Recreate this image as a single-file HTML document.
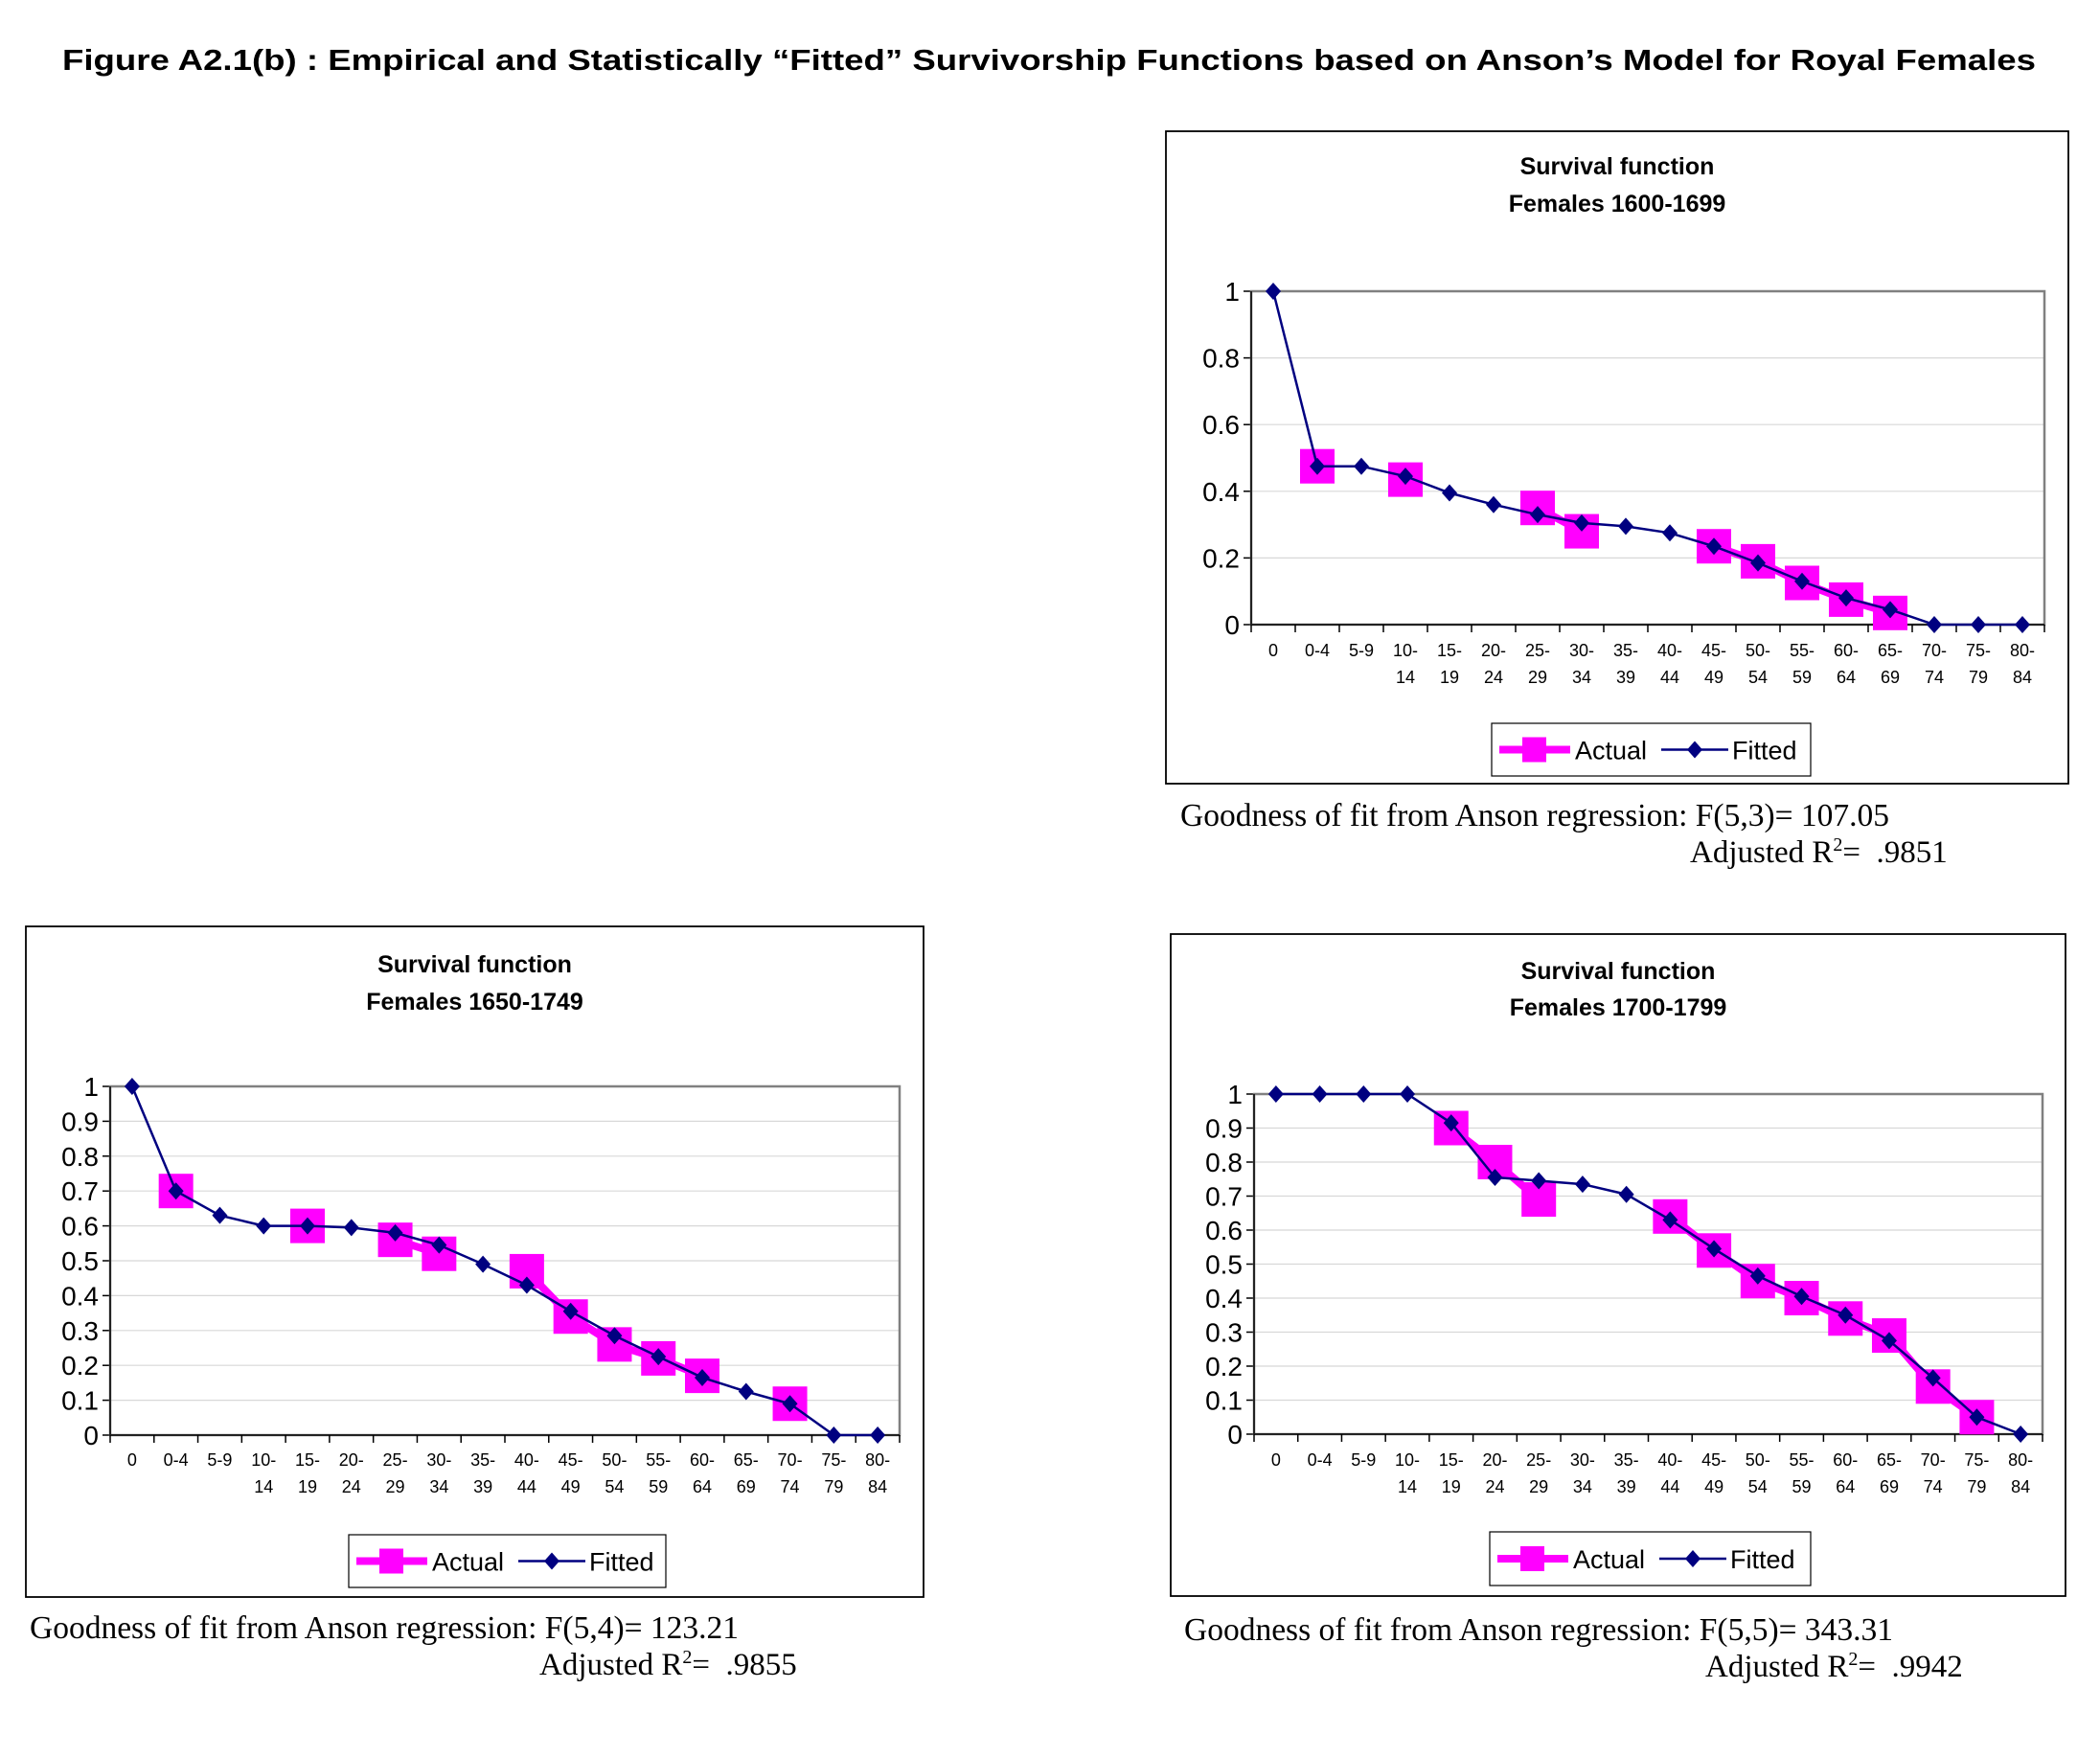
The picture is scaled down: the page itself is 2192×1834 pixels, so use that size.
<!DOCTYPE html>
<html><head><meta charset="utf-8"><style>html,body{margin:0;padding:0;background:#fff}svg{display:block}</style></head>
<body>
<svg id="fig" xmlns="http://www.w3.org/2000/svg" width="2192" height="1834" viewBox="0 0 2192 1834">
<text x="1095" y="73" text-anchor="middle" font-family="Liberation Sans, sans-serif" font-weight="bold" font-size="31" textLength="2060" lengthAdjust="spacingAndGlyphs">Figure A2.1(b) : Empirical and Statistically “Fitted” Survivorship Functions based on Anson’s Model for Royal Females</text>
</svg>
<script>
const categories = ["0","0-4","5-9","10-|14","15-|19","20-|24","25-|29","30-|34","35-|39","40-|44","45-|49","50-|54","55-|59","60-|64","65-|69","70-|74","75-|79","80-|84"];
const fitted1 = [1,0.475,0.475,0.445,0.395,0.36,0.33,0.305,0.295,0.275,0.235,0.185,0.13,0.08,0.045,0,0,0];
const actual1 = [null,0.475,null,0.435,null,null,0.35,0.28,null,null,0.235,0.19,0.125,0.075,0.035,null,null,null];
const fitted2 = [1,0.70,0.63,0.60,0.60,0.595,0.58,0.545,0.49,0.43,0.355,0.285,0.225,0.165,0.125,0.09,0,0];
const actual2 = [null,0.70,null,null,0.60,null,0.56,0.52,null,0.47,0.34,0.26,0.22,0.17,null,0.09,null,null];
const fitted3 = [1,1,1,1,0.915,0.755,0.745,0.735,0.705,0.63,0.545,0.465,0.405,0.35,0.275,0.165,0.05,0];
const actual3 = [null,null,null,null,0.90,0.80,0.69,null,null,0.64,0.54,0.45,0.40,0.34,0.29,0.14,0.05,null];
const ticks1 = ["0","0.2","0.4","0.6","0.8","1"];
const ticks01 = ["0","0.1","0.2","0.3","0.4","0.5","0.6","0.7","0.8","0.9","1"];

const NS="http://www.w3.org/2000/svg";
const svg=document.getElementById('fig');
function mk(tag,attrs,parent){const e=document.createElementNS(NS,tag);for(const k in attrs)e.setAttribute(k,attrs[k]);(parent||svg).appendChild(e);return e;}

const charts=[
 {id:'1600',period:'Females 1600-1699',box:[1217,137,2159,818],plot:[1306,304,2134,652],t1:182,t2:221,leg:[1557,755,1890,810],fit:fitted1,act:actual1,ticks:ticks1,xl:685,gof:'Goodness of fit from Anson regression: F(5,3)= 107.05',gx:1232,gy:862,adj:'.9851',ax:1764,ay:900},
 {id:'1650',period:'Females 1650-1749',box:[27,967,964,1667],plot:[115,1134,939,1498],t1:1015,t2:1054,leg:[364,1602,695,1657],fit:fitted2,act:actual2,ticks:ticks01,xl:1530,gof:'Goodness of fit from Anson regression: F(5,4)= 123.21',gx:31,gy:1710,adj:'.9855',ax:563,ay:1748},
 {id:'1700',period:'Females 1700-1799',box:[1222,975,2156,1666],plot:[1309,1142,2132,1497],t1:1022,t2:1060,leg:[1555,1599,1890,1655],fit:fitted3,act:actual3,ticks:ticks01,xl:1530,gof:'Goodness of fit from Anson regression: F(5,5)= 343.31',gx:1236,gy:1712,adj:'.9942',ax:1780,ay:1750}
];

charts.forEach(c=>{
 const g=mk('g',{});
 
 
 const [bx0,by0,bx1,by1]=c.box;
 const frame=mk('rect',{x:bx0,y:by0,width:bx1-bx0,height:by1-by0,fill:'#fff',stroke:'#000','stroke-width':1.8},g);
 
 
 const cx=(bx0+bx1)/2;
 const tt=mk('text',{x:cx,y:c.t1,'text-anchor':'middle','font-family':'Liberation Sans, sans-serif','font-weight':'bold','font-size':25},g);
 tt.textContent='Survival function';
 
 
 const ts=mk('text',{x:cx,y:c.t2,'text-anchor':'middle','font-family':'Liberation Sans, sans-serif','font-weight':'bold','font-size':25},g);
 ts.textContent=c.period;
 
 
 const [px0,py0,px1,py1]=c.plot;
 const n=categories.length, cw=(px1-px0)/n;
 const xs=i=>px0+cw*(i+0.5);
 const maxV=1;
 const ys=v=>py1-(v/maxV)*(py1-py0);
 c.ticks.forEach(t=>{
  const v=parseFloat(t), y=ys(v);
  if(v>0&&v<1){const gl=mk('line',{x1:px0,x2:px1,y1:y,y2:y,stroke:'#d8d8d8','stroke-width':1.2},g);
   
   }
  mk('line',{x1:px0-8,x2:px0,y1:y,y2:y,stroke:'#000','stroke-width':1.5},g);
  const tl=mk('text',{x:px0-12,y:y+10,'text-anchor':'end','font-family':'Liberation Sans, sans-serif','font-size':28},g);
  tl.textContent=t;
  
  
 });
 const pb=mk('rect',{x:px0,y:py0,width:px1-px0,height:py1-py0,fill:'none',stroke:'#808080','stroke-width':2.5},g);
 
 
 mk('line',{x1:px0,x2:px0,y1:py0,y2:py1,stroke:'#222','stroke-width':2},g);
 mk('line',{x1:px0,x2:px1,y1:py1,y2:py1,stroke:'#222','stroke-width':2},g);
 for(let i=0;i<=n;i++){const x=px0+cw*i;mk('line',{x1:x,x2:x,y1:py1,y2:py1+8,stroke:'#000','stroke-width':1.5},g);}
 categories.forEach((cat,i)=>{
  const parts=cat.split('|');
  parts.forEach((p,k)=>{
   const xl=mk('text',{x:xs(i),y:c.xl+k*28,'text-anchor':'middle','font-family':'Liberation Sans, sans-serif','font-size':18},g);
   xl.textContent=p;
   
   
  });
 });
 let seg=[];const segs=[];
 c.act.forEach((v,i)=>{if(v===null){if(seg.length)segs.push(seg);seg=[];}else seg.push([xs(i),ys(v)]);});
 if(seg.length)segs.push(seg);
 segs.forEach(s=>{if(s.length>1){const pl=mk('polyline',{points:s.map(p=>p.join(',')).join(' '),fill:'none',stroke:'#ff00ff','stroke-width':8},g);
  
  }});
 c.act.forEach((v,i)=>{if(v===null)return;
  const r=mk('rect',{x:xs(i)-18,y:ys(v)-18,width:36,height:36,fill:'#ff00ff'},g);
  
  });
 const fl=mk('polyline',{points:c.fit.map((v,i)=>xs(i)+','+ys(v)).join(' '),fill:'none',stroke:'#000080','stroke-width':2.5},g);
 
 
 c.fit.forEach((v,i)=>{const x=xs(i),y=ys(v);
  const d=mk('polygon',{points:`${x},${y-9} ${x+8},${y} ${x},${y+9} ${x-8},${y}`,fill:'#000080'},g);
  
  });
 const [lx0,ly0,lx1,ly1]=c.leg;const lg=mk('g',{},g);
 
 
 mk('rect',{x:lx0,y:ly0,width:lx1-lx0,height:ly1-ly0,fill:'#fff',stroke:'#000','stroke-width':1.2},lg);
 const lm=(ly0+ly1)/2;
 mk('line',{x1:lx0+8,x2:lx0+82,y1:lm,y2:lm,stroke:'#ff00ff','stroke-width':8},lg);
 mk('rect',{x:lx0+32,y:lm-13,width:25,height:26,fill:'#ff00ff'},lg);
 const la=mk('text',{x:lx0+87,y:lm+10,'font-family':'Liberation Sans, sans-serif','font-size':27},lg);
 la.textContent='Actual';
 
 
 mk('line',{x1:lx0+177,x2:lx0+247,y1:lm,y2:lm,stroke:'#000080','stroke-width':2.5},lg);
 const xm=lx0+212;
 mk('polygon',{points:`${xm},${lm-9} ${xm+8},${lm} ${xm},${lm+9} ${xm-8},${lm}`,fill:'#000080'},lg);
 const lf=mk('text',{x:lx0+251,y:lm+10,'font-family':'Liberation Sans, sans-serif','font-size':27},lg);
 lf.textContent='Fitted';
 
 
 const gt=mk('text',{x:c.gx,y:c.gy,'font-family':'Liberation Serif, serif','font-size':33.5},svg);
 gt.textContent=c.gof;
 
 
 const at=mk('text',{x:c.ax,y:c.ay,'font-family':'Liberation Serif, serif','font-size':33},svg);
 
 
 const s1=mk('tspan',{},at);s1.textContent='Adjusted R';
 const s2=mk('tspan',{dy:-12,'font-size':20},at);s2.textContent='2';
 const s3=mk('tspan',{dy:12},at);s3.textContent='=  '+c.adj;
 at.setAttribute('style','white-space:pre');
});
</script>
</body></html>
